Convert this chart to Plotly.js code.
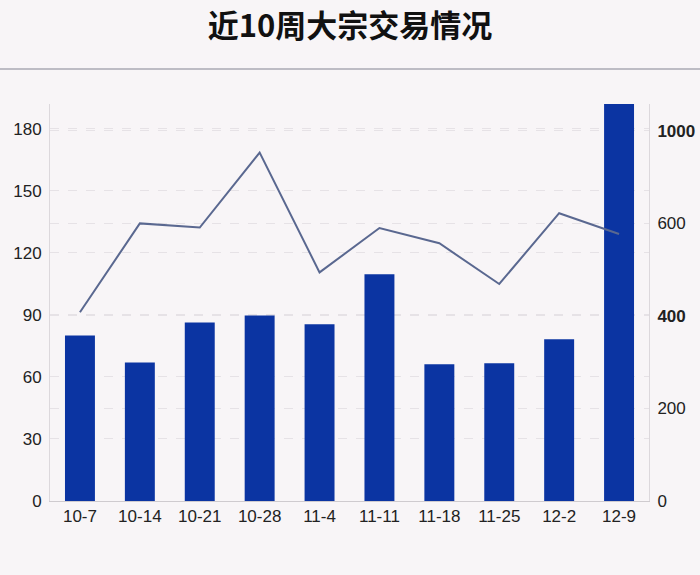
<!DOCTYPE html>
<html>
<head>
<meta charset="utf-8">
<script src="https://cdn.plot.ly/plotly-3.0.1.min.js"></script>
<style>html,body{margin:0;padding:0;background:#f8f5f7;}</style>
</head>
<body>
<div id="chart" style="width:700px;height:575px;"></div>
<script>
const categories = ['10-7','10-14','10-21','10-28','11-4','11-11','11-18','11-25','12-2','12-9'];
const barValues = [80, 67, 86.3, 89.7, 85.5, 109.7, 66.1, 66.6, 78.2, 200];
const lineValues = [408, 600, 591, 753, 494, 590, 557, 469, 622, 577];
const leftTicks = [0, 30, 60, 90, 120, 150, 180];
const rightTickVals = [0, 200, 400, 600, 800];
const rightTickText = ['0', '200', '<b>400</b>', '600', '<b>1000</b>'];

const traces = [
  {
    type: 'bar', x: categories, y: barValues, yaxis: 'y',
    marker: {color: '#0b34a2'}, width: 0.5, hoverinfo: 'x+y'
  },
  {
    type: 'scatter', mode: 'lines', x: categories, y: lineValues, yaxis: 'y2',
    line: {color: '#5a6890', width: 2}
  }
];

const tf = {family: '"Liberation Sans", Arial, sans-serif', size: 17, color: '#222'};

const layout = {
  width: 700, height: 575,
  paper_bgcolor: '#f8f5f7', plot_bgcolor: '#f8f5f7',
  margin: {l: 50, r: 51, t: 104, b: 74},
  showlegend: false,
  font: tf,
  title: {
    text: '<b>近10周大宗交易情况</b>',
    font: {family: '"Noto Sans CJK SC", sans-serif', size: 31, color: '#111'},
    x: 0.5, xanchor: 'center', y: 0.955, yanchor: 'middle', yref: 'container'
  },
  xaxis: {
    type: 'category', showgrid: false, zeroline: false,
    showline: true, linecolor: '#cfcbcf', linewidth: 1,
    ticks: '', tickfont: tf
  },
  yaxis: {
    range: [0, 192], tickvals: leftTicks, showline: true, linecolor: '#dcd8dc',
    showgrid: true, gridcolor: '#e6e2e6', griddash: 'dash', zeroline: false,
    ticks: '', tickfont: tf, ticklabelstandoff: 4
  },
  yaxis2: {
    overlaying: 'y', side: 'right', range: [0, 858],
    tickvals: rightTickVals, ticktext: rightTickText,
    showline: true, linecolor: '#dcd8dc',
    showgrid: true, gridcolor: '#e6e2e6', griddash: 'dash', zeroline: false,
    ticks: '', tickfont: tf, ticklabelstandoff: 4
  },
  shapes: [
    {type: 'line', xref: 'paper', yref: 'paper', x0: -0.1, x1: 1.1,
     y0: (501 - 69) / 397, y1: (501 - 69) / 397,
     line: {color: '#bdbcc4', width: 2}}
  ]
};

Plotly.newPlot('chart', traces, layout, {displayModeBar: false});
</script>
</body>
</html>
